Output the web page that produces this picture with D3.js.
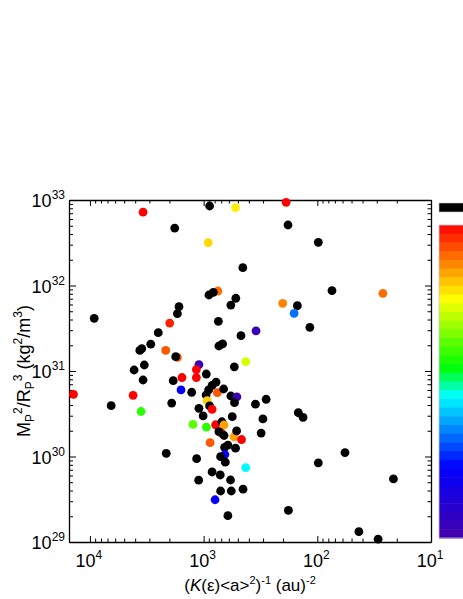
<!DOCTYPE html>
<html>
<head>
<meta charset="utf-8">
<title></title>
<script src="https://cdn.jsdelivr.net/npm/d3@7"></script>
<style>
  body{ margin:0; background:#fff; font-family:"Liberation Sans", Arial, sans-serif }
  svg{ display:block }
  .frame path{ stroke:#000; stroke-width:1.3 }
  .frame line{ stroke:#000; stroke-width:1 }
</style>
</head>
<body>
<script>
// (K(e)<a>^2)^-1 in au^-2
const xVals = [188, 3410, 9170, 2506, 2917, 3642, 3499, 3325, 4088, 3409,
  13950, 4171, 6506, 3548, 1987, 2154, 1701, 1761, 1647, 1701,
  1796, 886, 524, 910, 181, 452, 749, 822, 898, 521,
  576, 742, 346, 469, 734, 681, 1100, 1159, 537, 426,
  947, 1550, 1159, 1851, 777, 842, 904, 951, 1581, 1274,
  757, 667, 576, 510, 535, 932, 886, 842, 1100, 1010,
  1909, 350, 282, 560, 301, 147, 133.5, 312, 1241, 945,
  785, 691, 661, 695, 734, 661, 540, 513, 464, 877,
  654, 612, 524, 650, 709, 645, 426, 842, 714, 580,
  1106, 1152, 2133, 709, 571, 450, 793, 612, 179.6, 98,
  74.3, 26.5, 201.5, 149.7, 160, 116.3, 98, 57.1, 21.4, 43.1, 29.2]
// Mp^2/Rp^3 in kg^2/m^3
const yVals = [9.4e32, 7.2e32, 4.13e31, 2.81e31, 2.06e31, 1.74e31, 1.83e31, 1.175e31, 1.027e31, 7.85e30,
  5.34e30, 5.2e30, 3.93e30, 3.36e30, 3.64e31, 1.74e31, 1.44e31, 1.47e31, 5.65e31, 4.68e31,
  4.7e32, 8.51e32, 8.13e32, 3.17e32, 5.1e32, 1.615e32, 8.62e31, 8.33e31, 7.74e31, 7.09e31,
  5.91e31, 3.81e31, 2.94e31, 2.59e31, 1.96e31, 2.07e31, 1.19e31, 1.04e31, 1.12e31, 1.285e31,
  9.22e30, 8.39e30, 8.39e30, 7.7e30, 7.43e30, 6.77e30, 6.0e30, 5.24e30, 6.0e30, 5.64e30,
  5.58e30, 6.16e30, 5.1e30, 4.99e30, 4.26e30, 4.49e30, 3.9e30, 3.55e30, 3.66e30, 2.98e30,
  4.22e30, 4.09e30, 4.67e30, 2.92e30, 2.75e30, 3.25e30, 2.87e30, 1.88e30, 2.37e30, 2.2e30,
  2.35e30, 2.55e30, 2.34e30, 1.88e30, 1.95e30, 1.76e30, 1.7e30, 1.99e30, 1.58e30, 1.45e30,
  1.28e30, 1.36e30, 1.25e30, 1.055e30, 9.95e29, 8.58e29, 7.4e29, 6.59e29, 6.08e29, 5.31e29,
  5.28e29, 9.42e29, 1.09e30, 3.95e29, 3.95e29, 4.15e29, 3.12e29, 2.03e29, 2.34e29, 3.2e32,
  8.69e31, 8.11e31, 6.19e31, 5.8e31, 4.73e31, 3.24e31, 8.4e29, 1.11e30, 5.46e29, 1.32e29, 1.08e29]
// colour value along the bar (0 = top red, 1 = bottom violet), null = black
const cVals = [0, 0, null, null, null, null, null, null, null, null,
  0, 0, null, 0.42, 0.03, 0.08, 0.08, null, null, null,
  null, null, 0.22, 0.2, null, null, 0.1, null, null, null,
  null, null, 0.97, null, null, null, 0.96, 0, null, 0.27,
  null, 0, 0, null, null, null, null, null, 0.8, null,
  0.08, null, null, 0.97, null, 0.19, null, 0, null, null,
  null, null, null, null, null, null, null, null, 0.38, 0.42,
  0, null, 0.15, 0, null, null, 0.15, null, 0, 0.08,
  null, null, null, 0.79, null, null, 0.55, null, null, null,
  null, null, null, null, null, null, 0.8, null, null, null,
  null, 0.1, 0.12, null, 0.67, null, null, null, null, null, null]

const xMajor = [1e4, 1e3, 1e2, 1e1]
const xExp = ["4", "3", "2", "1"]
const yMajor = [1e29, 1e30, 1e31, 1e32, 1e33]
const yExp = ["29", "30", "31", "32", "33"]
const nBands = 36

var W = 463, H = 599
var margin = { left:69, top:200, right:431, bottom:542 }

var svg = d3.select("body").append("svg")
  .attr("width", W).attr("height", H)

var x = d3.scaleLog().domain([15280, 10]).range([margin.left, margin.right])
var y = d3.scaleLog().domain([1e29, 1e33]).range([margin.bottom, margin.top])

var color = d3.scaleLinear()
  .domain([0, 0.236, 0.454, 0.546, 0.773, 1])
  .range(["#ff0000", "#ffff00", "#00ff00", "#00ffff", "#0000ff", "#4400aa"])

// minor ticks 2..9 per decade inside the domain
function minors(scale){
  var d = scale.domain(), lo = Math.min(d[0], d[1]), hi = Math.max(d[0], d[1]), out = []
  for (var e = Math.floor(Math.log10(lo)); e <= Math.ceil(Math.log10(hi)); e++){
    for (var m = 2; m <= 9; m++){
      var v = m * Math.pow(10, e)
      if (v > lo && v < hi) out.push(v)
    }
  }
  return out
}

var ih = margin.bottom - margin.top, iw = margin.right - margin.left

function drawAxis(axisFn, scale, tr, major, minorLen, majorLen){
  var g = svg.append("g").attr("class", "frame").attr("transform", tr)
  g.call(axisFn(scale).tickValues(major).tickSizeInner(-majorLen).tickSizeOuter(0).tickFormat(""))
  g.append("g").call(axisFn(scale).tickValues(minors(scale)).tickSizeInner(-minorLen).tickSizeOuter(0).tickFormat(""))
    .select(".domain").remove()
}
drawAxis(d3.axisBottom, x, "translate(0," + margin.bottom + ")", xMajor, 3.5, 6)
drawAxis(d3.axisTop, x, "translate(0," + margin.top + ")", xMajor, 3.5, 6)
drawAxis(d3.axisLeft, y, "translate(" + margin.left + ",0)", yMajor, 4, 7)
drawAxis(d3.axisRight, y, "translate(" + margin.right + ",0)", yMajor, 3.5, 6)

// tick labels
var xl = svg.append("g").selectAll("text").data(xMajor).enter().append("text")
  .attr("x", function(d){ return x(d) - 1 })
  .attr("y", 567)
  .attr("text-anchor", "middle")
  .attr("font-size", "18px")
xl.append("tspan").text("10")
xl.append("tspan").attr("dy", -8).attr("font-size", "12px").text(function(d, i){ return xExp[i] })

var yl = svg.append("g").selectAll("text").data(yMajor).enter().append("text")
  .attr("x", 65)
  .attr("y", function(d){ return y(d) + 7 })
  .attr("text-anchor", "end")
  .attr("font-size", "18px")
yl.append("tspan").text("10")
yl.append("tspan").attr("dy", -8).attr("font-size", "12px").text(function(d, i){ return yExp[i] })

// points
var pts = xVals.map(function(v, i){ return [v, yVals[i], cVals[i]] })
svg.append("g").selectAll("circle").data(pts).enter().append("circle")
  .attr("cx", function(d){ return x(d[0]) })
  .attr("cy", function(d){ return y(d[1]) })
  .attr("r", 4.4)
  .attr("fill", function(d){ return d[2] === null ? "#000" : color(d[2]) })

// axis titles
var yt = svg.append("text")
  .attr("transform", "translate(30," + (margin.top + ih / 2) + ") rotate(-90)")
  .attr("text-anchor", "middle")
  .attr("font-size", "18px")
yt.append("tspan").text("M")
yt.append("tspan").attr("dy", 4).attr("font-size", "12px").text("P")
yt.append("tspan").attr("dy", -12).attr("font-size", "12px").text("2")
yt.append("tspan").attr("dy", 8).text("/R")
yt.append("tspan").attr("dy", 4).attr("font-size", "12px").text("P")
yt.append("tspan").attr("dy", -12).attr("font-size", "12px").text("3")
yt.append("tspan").attr("dy", 8).text(" (kg")
yt.append("tspan").attr("dy", -8).attr("font-size", "12px").text("2")
yt.append("tspan").attr("dy", 8).text("/m")
yt.append("tspan").attr("dy", -8).attr("font-size", "12px").text("3")
yt.append("tspan").attr("dy", 8).text(")")

var xt = svg.append("text")
  .attr("x", margin.left + iw / 2)
  .attr("y", 591)
  .attr("text-anchor", "middle")
  .attr("font-size", "17px")
xt.append("tspan").text("(")
xt.append("tspan").attr("font-style", "italic").text("K")
xt.append("tspan").text("(\u03b5)<a>")
xt.append("tspan").attr("dy", -7).attr("font-size", "11px").text("2")
xt.append("tspan").attr("dy", 7).text(")")
xt.append("tspan").attr("dy", -7).attr("font-size", "11px").text("-1")
xt.append("tspan").attr("dy", 7).text(" (au)")
xt.append("tspan").attr("dy", -7).attr("font-size", "11px").text("-2")

// colour bar (cut by the window edge)
var cb = svg.append("g")
cb.append("rect").attr("x", 439).attr("y", 203).attr("width", 30).attr("height", 9)
  .attr("fill", "#000").attr("stroke", "#ccc").attr("stroke-width", 0.6)
var bandScale = d3.scaleBand().domain(d3.range(nBands)).range([225, 538])
cb.selectAll("rect.band").data(d3.range(nBands)).enter().append("rect")
  .attr("class", "band")
  .attr("x", 439).attr("y", function(d){ return bandScale(d) })
  .attr("width", 30).attr("height", bandScale.bandwidth() + 0.5)
  .attr("fill", function(d){ return color((d + 0.5) / nBands) })
cb.append("rect").attr("x", 439).attr("y", 225).attr("width", 30).attr("height", 313)
  .attr("fill", "none").attr("stroke", "#c8c0e0").attr("stroke-width", 0.8)
</script>
</body>
</html>
